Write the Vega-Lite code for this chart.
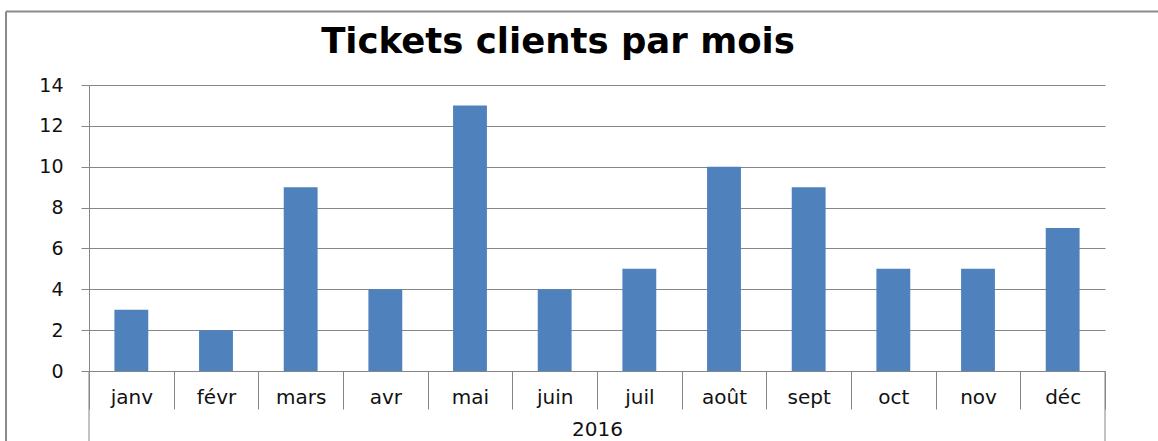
{
  "$schema": "https://vega.github.io/schema/vega-lite/v6.json",
  "width": 1016,
  "height": 286,
  "autosize": {"type": "none"},
  "padding": {"left": 89, "top": 85, "right": 53, "bottom": 70},
  "background": "white",
  "title": {
    "text": "Tickets clients par mois",
    "font": "DejaVu Sans",
    "fontSize": 35.5,
    "fontWeight": "bold",
    "color": "#000000",
    "anchor": "middle",
    "frame": "group",
    "dx": -39,
    "baseline": "alphabetic",
    "offset": -78
  },
  "data": {
    "values": [
      {"mois": "janv", "tickets": 3},
      {"mois": "févr", "tickets": 2},
      {"mois": "mars", "tickets": 9},
      {"mois": "avr", "tickets": 4},
      {"mois": "mai", "tickets": 13},
      {"mois": "juin", "tickets": 4},
      {"mois": "juil", "tickets": 5},
      {"mois": "août", "tickets": 10},
      {"mois": "sept", "tickets": 9},
      {"mois": "oct", "tickets": 5},
      {"mois": "nov", "tickets": 5},
      {"mois": "déc", "tickets": 7}
    ]
  },
  "config": {
    "view": {"stroke": null},
    "axis": {
      "labelFont": "DejaVu Sans",
      "titleFont": "DejaVu Sans",
      "labelColor": "#111111",
      "titleColor": "#111111",
      "domainColor": "#868686",
      "tickColor": "#868686",
      "gridColor": "#868686",
      "gridOpacity": 1
    }
  },
  "layer": [
    {
      "mark": {"type": "bar", "color": "#4F81BD", "width": {"band": 0.4}},
      "encoding": {
        "x": {
          "field": "mois",
          "type": "nominal",
          "sort": null,
          "scale": {"paddingInner": 0, "paddingOuter": 0},
          "axis": {
            "title": "2016",
            "labelAngle": 0,
            "labelFontSize": 20,
            "titleFontSize": 20,
            "titleFontWeight": "normal",
            "tickBand": "extent",
            "tickSize": 38,
            "labelPadding": -12,
            "labelBaseline": "middle",
            "titlePadding": 10,
            "domainColor": "#868686"
          }
        },
        "y": {
          "field": "tickets",
          "type": "quantitative",
          "scale": {"domain": [0, 14]},
          "axis": {
            "title": null,
            "values": [0, 2, 4, 6, 8, 10, 12, 14],
            "labelFontSize": 19,
            "tickSize": 8,
            "labelPadding": 18,
            "domain": true
          }
        }
      }
    },
    {
      "data": {"values": [{"edge": "gauche"}]},
      "mark": {"type": "rule", "color": "#868686", "strokeWidth": 1},
      "encoding": {
        "x": {"datum": "janv", "bandPosition": 0},
        "y": {"datum": 0, "scale": {"domain": [0, 14]}},
        "y2": {"datum": -3.6}
      }
    },
    {
      "data": {"values": [{"edge": "droite"}]},
      "mark": {"type": "rule", "color": "#868686", "strokeWidth": 1},
      "encoding": {
        "x": {"datum": "déc", "bandPosition": 1},
        "y": {"datum": 0, "scale": {"domain": [0, 14]}},
        "y2": {"datum": -3.6}
      }
    },
    {
      "data": {"values": [{"cadre": "gauche"}]},
      "mark": {"type": "rule", "color": "#8a8a8a", "strokeWidth": 2},
      "encoding": {
        "x": {"datum": "janv", "bandPosition": -0.98},
        "y": {"datum": 17.6, "scale": {"domain": [0, 14]}},
        "y2": {"datum": -3.6}
      }
    },
    {
      "data": {"values": [{"cadre": "haut"}]},
      "mark": {"type": "rule", "color": "#8a8a8a", "strokeWidth": 2},
      "encoding": {
        "x": {"datum": "janv", "bandPosition": -0.98},
        "x2": {"datum": "déc", "bandPosition": 1.8},
        "y": {"datum": 17.6, "scale": {"domain": [0, 14]}}
      }
    }
  ]
}
